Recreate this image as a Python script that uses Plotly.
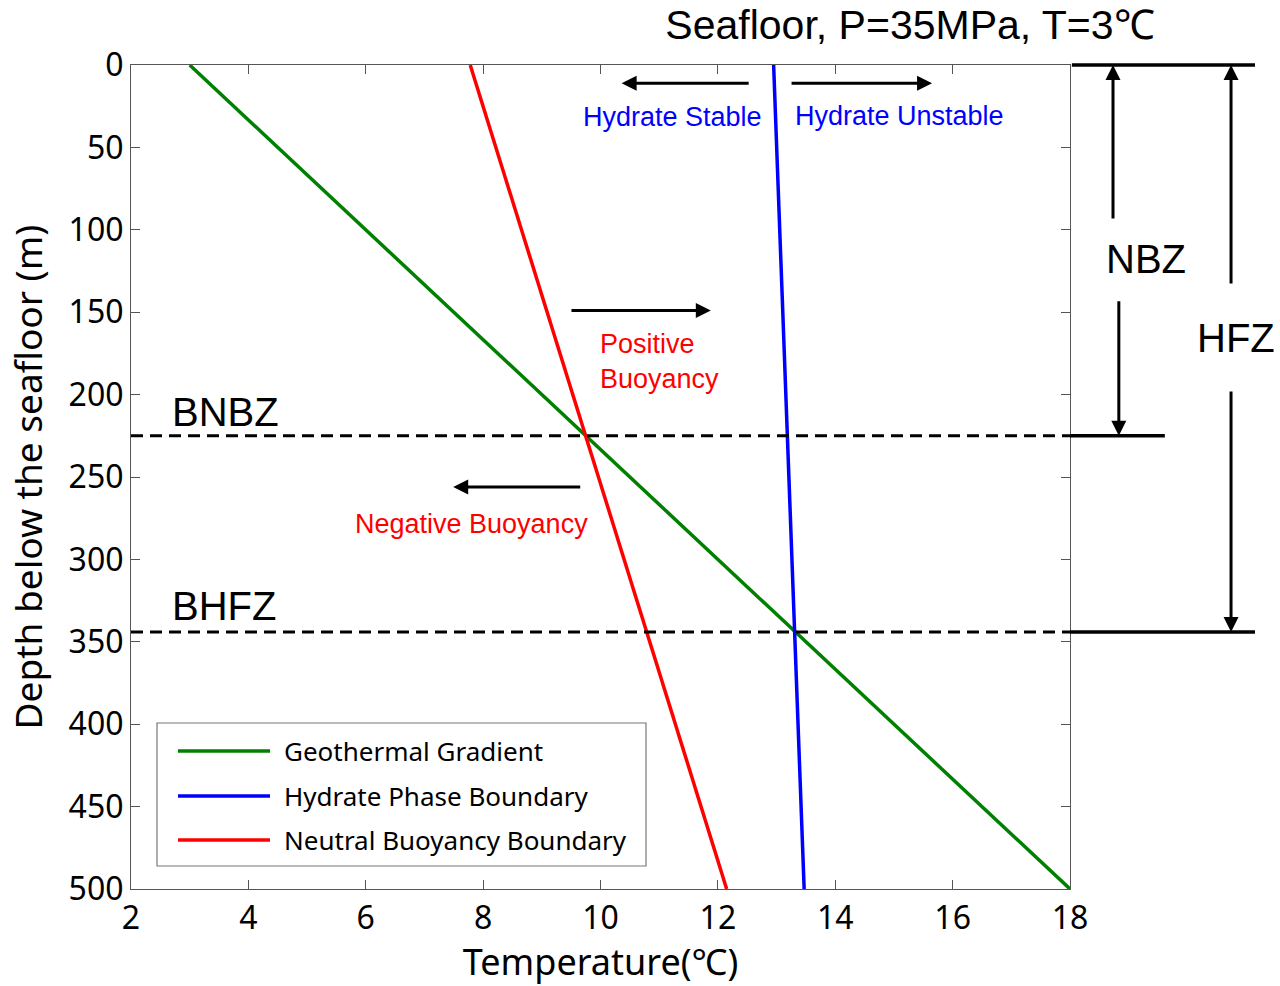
import plotly.graph_objects as go

# ---- data ----
depth = [0, 500]
geothermal_T = [3.0, 18.0]
hydrate_T = [12.95, 13.47]
neutral_T = [7.78, 12.15]
bnbz_depth = 225
bhfz_depth = 344
x_ticks = [2, 4, 6, 8, 10, 12, 14, 16, 18]
y_ticks = [0, 50, 100, 150, 200, 250, 300, 350, 400, 450, 500]
series_names = ["Geothermal Gradient", "Hydrate Phase Boundary", "Neutral Buoyancy Boundary"]
series_colors = ["#008000", "#0000FF", "#FF0000"]

ARIAL = "Liberation Sans, Arial, sans-serif"
NOTO = "Noto Sans, sans-serif"

# plot-area geometry in pixels (used only for placing the hand-drawn legend box)
PL, PR, PT, PB = 131, 1070, 65, 889
def px(xp): return (xp - PL) / (PR - PL)
def py(yp): return (PB - yp) / (PB - PT)

fig = go.Figure()
for name, T, c in zip(series_names, [geothermal_T, hydrate_T, neutral_T], series_colors):
    fig.add_trace(go.Scatter(x=T, y=depth, mode="lines", name=name, showlegend=False,
                             line=dict(color=c, width=3.5)))

shapes = []
# dashed horizontal lines inside the plot
for d in [bnbz_depth, bhfz_depth]:
    shapes.append(dict(type="line", xref="x", yref="y", x0=2, x1=18, y0=d, y1=d,
                       line=dict(color="black", width=3, dash="12px,7px")))
# solid extensions to the right of the plot
shapes.append(dict(type="line", xref="paper", yref="y", x0=1.0, x1=1.101, y0=bnbz_depth, y1=bnbz_depth,
                   line=dict(color="black", width=3.5)))
shapes.append(dict(type="line", xref="paper", yref="y", x0=1.0, x1=1.197, y0=bhfz_depth, y1=bhfz_depth,
                   line=dict(color="black", width=3.5)))
shapes.append(dict(type="line", xref="paper", yref="paper", x0=1.002, x1=1.197, y0=1, y1=1,
                   line=dict(color="black", width=3.5)))

annotations = []

# legend (box, sample lines, labels)
shapes.append(dict(type="rect", xref="paper", yref="paper", x0=px(157), x1=px(646), y0=py(866), y1=py(723),
                   line=dict(color="#777777", width=1.2), fillcolor="white", layer="above"))
legend_rows = [751, 796, 840]
for name, c, ry in zip(series_names, series_colors, legend_rows):
    shapes.append(dict(type="line", xref="paper", yref="paper", x0=px(178), x1=px(270), y0=py(ry), y1=py(ry),
                       line=dict(color=c, width=3.5), layer="above"))
    annotations.append(dict(x=px(282), y=py(ry), xref="paper", yref="paper", text=name, showarrow=False,
                            xanchor="left", yanchor="middle",
                            font=dict(family=NOTO, size=26, color="black")))

def arrow_data(x_tip, y_tip, x_tail, y_tail):
    annotations.append(dict(x=x_tip, y=y_tip, ax=x_tail, ay=y_tail, xref="x", yref="y",
                            axref="x", ayref="y", text="", showarrow=True,
                            arrowhead=2, arrowsize=1, arrowwidth=3, arrowcolor="black"))

def arrow_side(x_tip, y_tip, ay_px):
    annotations.append(dict(x=x_tip, y=y_tip, ax=0, ay=ay_px, xref="paper", yref="y",
                            text="", showarrow=True, arrowhead=2, arrowsize=1,
                            arrowwidth=3, arrowcolor="black"))

arrow_data(10.36, 11, 12.55, 11)
arrow_data(15.65, 11, 13.23, 11)
arrow_data(11.88, 149, 9.48, 149)
arrow_data(7.49, 256, 9.68, 256)

arrow_side(1.0458, 0, 155)
arrow_side(1.052, bnbz_depth, -136)
arrow_side(1.1715, 0, 220)
arrow_side(1.1715, bhfz_depth, -242)

def text(x, y, s, size, color="black", xref="x", xanchor="center", align="center"):
    annotations.append(dict(x=x, y=y, xref=xref, yref="y", text=s, showarrow=False,
                            xanchor=xanchor, yanchor="middle", align=align,
                            font=dict(family=ARIAL, size=size, color=color)))

text(11.22, 31.5, "Hydrate Stable", 27, "#0000FF")
text(15.10, 31.0, "Hydrate Unstable", 27, "#0000FF")
text(9.96, 180, "Positive<br>Buoyancy", 27, "#FF0000", xanchor="left", align="left")
text(7.81, 278.5, "Negative Buoyancy", 27, "#FF0000")
text(2.66, 210.5, "BNBZ", 40, xanchor="left")
text(2.66, 328, "BHFZ", 40, xanchor="left")
text(1.081, 118, "NBZ", 40, xref="paper")
text(1.177, 165.5, "HFZ", 40, xref="paper")

axis_common = dict(showline=True, linecolor="#555555", linewidth=1.2, mirror="ticks",
                   ticks="inside", ticklen=9, tickcolor="#555555", tickwidth=1.2,
                   showgrid=False, zeroline=False,
                   tickfont=dict(family=NOTO, size=32, color="black"))

fig.update_layout(
    width=1280, height=986,
    paper_bgcolor="white", plot_bgcolor="white",
    margin=dict(l=131, r=210, t=65, b=97, autoexpand=False),
    title=dict(text="Seafloor, P=35MPa, T=3℃", x=910/1280, xanchor="center",
               y=1 - 25/986, yanchor="middle", yref="container",
               font=dict(family=ARIAL, size=41, color="black")),
    xaxis=dict(range=[2, 18], tickvals=x_ticks, ticktext=[str(v) for v in x_ticks],
               title=dict(text="Temperature(℃)", font=dict(family=NOTO, size=36, color="black"), standoff=8),
               **axis_common),
    yaxis=dict(range=[500, 0], tickvals=y_ticks, ticktext=[str(v) for v in y_ticks],
               title=dict(text="Depth below the seafloor (m)", font=dict(family=NOTO, size=37, color="black"), standoff=14),
               **axis_common),
    shapes=shapes, annotations=annotations,
    showlegend=False,
)

fig.write_html("out.html")
